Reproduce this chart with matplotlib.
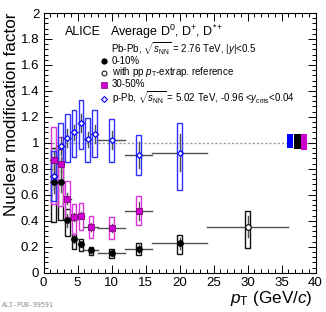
import matplotlib
matplotlib.use("Agg")
import matplotlib.pyplot as plt
from matplotlib.patches import Rectangle
from matplotlib.ticker import MultipleLocator

plt.rcParams['font.family'] = ['Liberation Sans', 'DejaVu Sans']
plt.rcParams['mathtext.fontset'] = 'custom'
plt.rcParams['mathtext.rm'] = 'Liberation Sans'
plt.rcParams['mathtext.it'] = 'Liberation Sans:italic'
plt.rcParams['mathtext.sf'] = 'Liberation Sans'

# p-Pb (blue)
ppb_pt = [1.5, 2.5, 3.5, 4.5, 5.5, 6.5, 7.5, 10, 14, 20]
ppb_xerr = [0.5, 0.5, 0.5, 0.5, 0.5, 0.5, 0.5, 2, 2, 4]
ppb_val = [0.745, 0.977, 1.04, 1.08, 1.15, 1.026, 1.07, 1.02, 0.905, 0.925]
ppb_stat = [0.10, 0.07, 0.07, 0.06, 0.07, 0.06, 0.07, 0.07, 0.10, 0.145]
ppb_syst_lo = [0.55, 0.85, 0.85, 0.89, 0.95, 0.855, 0.89, 0.85, 0.75, 0.636]
ppb_syst_hi = [0.94, 1.15, 1.22, 1.25, 1.33, 1.19, 1.25, 1.18, 1.06, 1.15]

# Pb-Pb 0-10% (black)
aa_pt = [1.5, 2.5, 3.5, 4.5, 5.5, 7, 10, 14, 20, 30]
aa_xerr = [0.5, 0.5, 0.5, 0.5, 0.5, 1, 2, 2, 4, 6]
aa_val = [0.70, 0.70, 0.405, 0.257, 0.22, 0.175, 0.149, 0.182, 0.226, 0.354]
aa_stat = [0.09, 0.08, 0.05, 0.03, 0.02, 0.02, 0.02, 0.03, 0.04, 0.08]
aa_syst_lo = [0.39, 0.405, 0.28, 0.18, 0.167, 0.136, 0.11, 0.136, 0.144, 0.19]
aa_syst_hi = [0.96, 0.95, 0.49, 0.30, 0.26, 0.20, 0.18, 0.226, 0.29, 0.475]
aa_open = [False] * 9 + [True]

# Pb-Pb 30-50% (magenta)
mc_pt = [1.5, 2.5, 3.5, 4.5, 5.5, 7, 10, 14]
mc_xerr = [0.5, 0.5, 0.5, 0.5, 0.5, 1, 2, 2]
mc_val = [0.867, 0.834, 0.57, 0.43, 0.44, 0.35, 0.344, 0.477]
mc_stat = [0.07, 0.06, 0.04, 0.03, 0.03, 0.03, 0.03, 0.07]
mc_syst_lo = [0.53, 0.51, 0.43, 0.30, 0.33, 0.264, 0.257, 0.367]
mc_syst_hi = [1.12, 1.046, 0.71, 0.526, 0.54, 0.436, 0.426, 0.59]

# normalisation boxes at right
norm_x = [36.25, 37.3, 38.3]
norm_lo = [0.957, 0.955, 0.944]
norm_hi = [1.065, 1.065, 1.07]
norm_col = ['#0000ff', '#000000', '#cc00cc']

W, H = 326, 312
fig = plt.figure(figsize=(W / 100, H / 100), dpi=100)
x0, x1, y0, y1 = 43.5, 315.5, 272.7, 13.0
ax = fig.add_axes([x0 / W, 1 - y0 / H, (x1 - x0) / W, (y0 - y1) / H])
ax.set_xlim(0, 40)
ax.set_ylim(0, 2)

ax.axhline(1.0, color='#999999', ls=(0, (1.5, 1.5)), lw=1.0, zorder=1)

hw = 0.34
BLUE = '#3030ff'
MAG = '#dd33dd'
ERR = '#505050'

def draw_set(pt, xerr, val, stat, lo, hi, box_col, zb):
    for p, xe, v, s, l, h in zip(pt, xerr, val, stat, lo, hi):
        ax.add_patch(Rectangle((p - hw, l), 2 * hw, h - l, fill=False,
                               edgecolor=box_col, lw=1.0, zorder=zb))
        ax.plot([p - xe, p + xe], [v, v], color=ERR, lw=1.0, zorder=zb + 0.1)
        ax.plot([p, p], [v - s, v + s], color=ERR, lw=1.0, zorder=zb + 0.1)

draw_set(aa_pt, aa_xerr, aa_val, aa_stat, aa_syst_lo, aa_syst_hi, '#111111', 3)
draw_set(mc_pt, mc_xerr, mc_val, mc_stat, mc_syst_lo, mc_syst_hi, MAG, 4)
draw_set(ppb_pt, ppb_xerr, ppb_val, ppb_stat, ppb_syst_lo, ppb_syst_hi, BLUE, 5)

for p, v, o in zip(aa_pt, aa_val, aa_open):
    ax.plot(p, v, 'o', ms=4, mfc='white' if o else 'black', mec='black', mew=0.8, zorder=7)
ax.plot(mc_pt, mc_val, 's', ms=4, mfc='#cc00cc', mec='#880088', mew=0.6, ls='none', zorder=7)
ax.plot(ppb_pt, ppb_val, 'D', ms=3.0, mfc='white', mec='#0000ff', mew=0.9, ls='none', zorder=8)

for x, l, h, c in zip(norm_x, norm_lo, norm_hi, norm_col):
    ax.add_patch(Rectangle((x - 0.5, l), 1.0, h - l, facecolor=c, edgecolor='none', zorder=6))

ax.xaxis.set_major_locator(MultipleLocator(5))
ax.xaxis.set_minor_locator(MultipleLocator(1))
ax.yaxis.set_major_locator(MultipleLocator(0.2))
ax.yaxis.set_minor_locator(MultipleLocator(0.04))
ax.tick_params(which='both', direction='in', top=True, right=True, width=0.7, colors='black')
ax.tick_params(which='major', length=6, labelsize=9.5, pad=3)
ax.tick_params(which='minor', length=3)
ax.yaxis.set_major_formatter(matplotlib.ticker.FuncFormatter(lambda v, p: ('%g' % round(v, 2))))
for s in ax.spines.values():
    s.set_linewidth(0.8)

fig.text(12 / W, 1 - 12 / H, 'Nuclear modification factor', rotation=90,
         ha='center', va='top', fontsize=12.3)
fig.text(312 / W, 1 - 298 / H, r'$p_{\rm T}$ (GeV/$c$)', ha='right', va='center', fontsize=12.3)

fig.text(65 / W, 1 - 32 / H, 'ALICE', ha='left', va='center', fontsize=9.0)
fig.text(110 / W, 1 - 32 / H, r'Average D$^{0}$, D$^{+}$, D$^{*+}$', ha='left', va='center', fontsize=9.0)
fs = 7.0
fig.text(111 / W, 1 - 48.5 / H, r'Pb-Pb, $\sqrt{s_{\rm NN}}$ = 2.76 TeV, $|y|$<0.5', ha='left', va='center', fontsize=fs)
fig.text(112 / W, 1 - 60.5 / H, '0-10%', ha='left', va='center', fontsize=fs)
fig.text(112 / W, 1 - 72 / H, r'with pp $p_{\rm T}$-extrap. reference', ha='left', va='center', fontsize=fs)
fig.text(112 / W, 1 - 84.5 / H, '30-50%', ha='left', va='center', fontsize=fs)
fig.text(112 / W, 1 - 98 / H, r'p-Pb, $\sqrt{s_{\rm NN}}$ = 5.02 TeV, -0.96 <$y_{\rm cms}$<0.04', ha='left', va='center', fontsize=fs)

mx = 103.5 / W
fig.lines.append(plt.Line2D([mx], [1 - 61 / H], marker='o', ms=3.5, mfc='black', mec='black', transform=fig.transFigure))
fig.lines.append(plt.Line2D([mx], [1 - 72.5 / H], marker='o', ms=3.5, mfc='white', mec='black', mew=0.7, transform=fig.transFigure))
fig.lines.append(plt.Line2D([mx], [1 - 85 / H], marker='s', ms=3.8, mfc='#cc00cc', mec='#880088', mew=0.5, transform=fig.transFigure))
fig.lines.append(plt.Line2D([mx], [1 - 98.5 / H], marker='D', ms=3.0, mfc='white', mec='#0000ff', mew=0.8, transform=fig.transFigure))

fig.text(2 / W, 1 - 305 / H, 'ALI-PUB-99591', ha='left', va='center', fontsize=4.8,
         color='#888888', family='DejaVu Sans Mono')

fig.savefig('out.png', dpi=100)
